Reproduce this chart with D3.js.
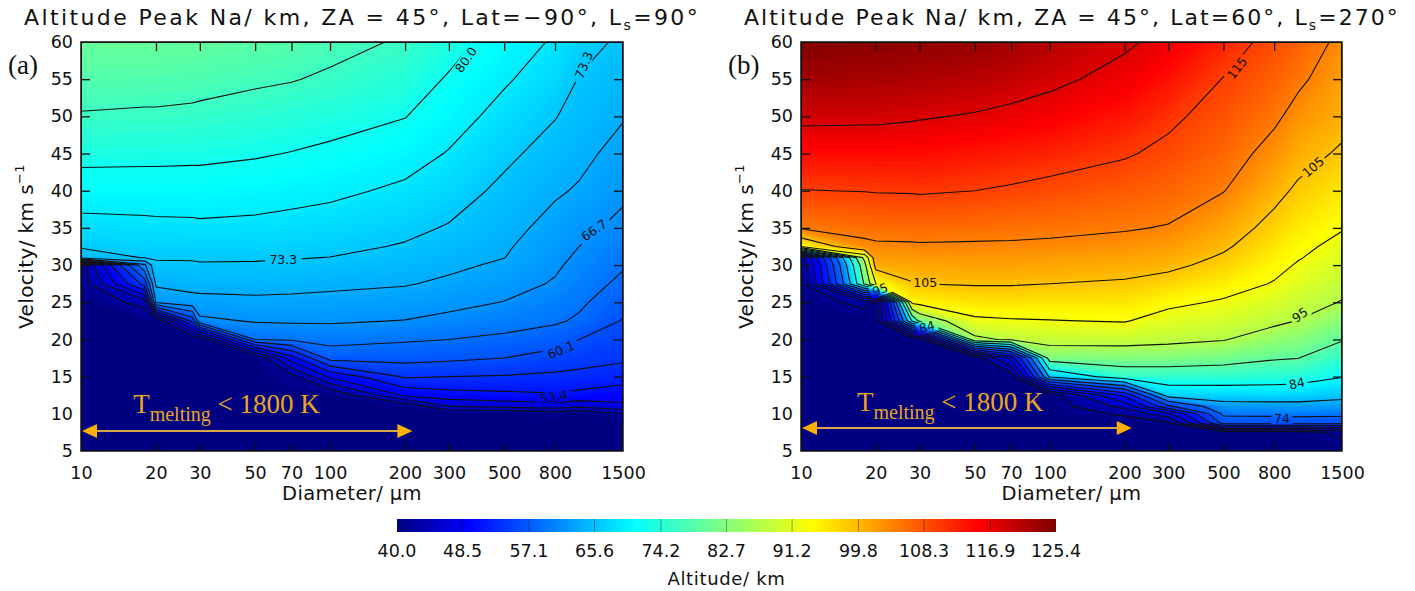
<!DOCTYPE html>
<html><head><meta charset="utf-8">
<script src="https://cdn.jsdelivr.net/npm/d3@7"></script>
<style>body{margin:0;background:#fff}text{font-family:"DejaVu Sans",sans-serif}</style>
</head><body>
<svg id="c" width="1415" height="591"></svg>
<script>
// ---------------- data ----------------
const diameters = [10, 18, 20, 28, 30, 50, 70, 100, 200, 300, 500, 800, 1000, 1500];
const velocities = [5, 7.5, 8.75, 10, 11, 12.5, 15, 17.5, 20, 22.5, 25, 27.5, 30, 31, 32.5, 35, 40, 45, 50, 55, 60];

// panel (a): one column per diameter, values at the velocities above (km)
const altitudeA = [
  [40,40,40,40,40,40,40,40,40,40,40,41,42,71.5,73.7,75.5,78.5,80.9,83.1,84.9,86.3],
  [40,40,40,40,40,40,40,40,40,40,45,58,66,73.5,74.6,75.8,78.5,80.8,82.9,84.7,86.2],
  [40,40,40,40,40,40,40,40,40,40,67,70.7,72.9,73.6,74.5,75.9,78.5,80.8,82.9,84.7,86.2],
  [40,40,40,40,40,40,40,40,40,58,68.8,71.2,73.0,73.6,74.5,76.0,78.5,80.7,82.7,84.5,86.0],
  [40,40,40,40,40,40,40,40,40,65.9,69.0,71.2,73.1,73.7,74.6,76.1,78.5,80.7,82.6,84.4,85.9],
  [40,40,40,40,40,40,40,40,63.4,67.0,69.3,71.3,73.1,73.6,74.5,75.9,78.2,80.3,82.1,83.8,85.4],
  [40,40,40,40,40,40,42,52,63.9,67.1,69.2,71.1,72.9,73.5,74.3,75.6,77.8,79.9,81.7,83.5,85.0],
  [40,40,40,40,40,40,50.7,61.4,64.5,67.1,69.0,70.8,72.6,73.3,74.1,75.2,77.4,79.4,81.2,82.9,84.3],
  [40,40,40,40,40.5,50.7,57.2,61.2,63.8,66.6,68.5,70.3,71.7,72.3,73.1,74.1,76.1,78.1,80.1,81.6,83.0],
  [40,40,40,40,46.7,52.0,56.75,60.8,63.4,65.8,67.7,69.4,70.8,71.2,72.0,73.1,74.9,76.5,78.1,79.7,81.2],
  [40,40,40,40,47.7,52.6,56.5,60.1,62.6,65.0,66.6,68.0,69.5,70.1,70.5,71.2,72.6,74.1,75.6,77.1,78.5],
  [40,40,40,41.5,48.6,53.0,56.1,58.8,61.5,63.9,65.0,66.4,67.2,67.5,68.0,68.9,70.5,72.0,73.5,75.0,76.3],
  [40,40,40,40,47.5,52.4,55.9,58.0,60.1,62.9,64.0,64.9,65.8,66.2,66.7,67.5,69.7,71.0,72.2,73.2,74.5],
  [40,40,40,43.4,49.2,51.6,54.8,57.4,58.6,59.9,61.2,62.7,63.7,64.0,64.6,65.9,67.3,68.8,70.3,71.6,72.8]
];
// panel (b)
const altitudeB = [
  [40,40,40,40,40,40,40,40,40,40,40,42,44,46,100,110.5,115.1,118.2,121.1,123.5,125.3],
  [40,40,40,40,40,40,40,40,40,40,45,90,93,96,109,111.4,115.3,118.2,121.0,123.3,125.0],
  [40,40,40,40,40,40,40,40,40,40,40,99.75,106.6,107.8,109.4,111.6,115.4,118.2,121.0,123.2,124.9],
  [40,40,40,40,40,40,40,40,40,85,100.8,104.6,107.1,108.0,109.5,111.7,115.5,118.1,120.7,122.9,124.7],
  [40,40,40,40,40,40,40,40,40,90.6,101.1,104.9,107.2,108.1,109.6,111.7,115.6,118.1,120.6,122.9,124.6],
  [40,40,40,40,40,40,40,40,93.5,99.0,102.3,105.2,107.3,108.2,109.5,111.5,115.2,117.6,120.1,122.4,124.2],
  [40,40,40,40,40,40,40,55,95.3,99.4,102.4,105.2,107.3,108.2,109.5,111.2,114.8,117.2,119.6,121.8,123.6],
  [40,40,40,40,40,40,80,91.5,96.1,99.6,102.3,104.9,107.1,107.8,109.3,111.0,114.2,116.8,119.1,121.0,122.6],
  [40,40,40,44,50,60,87.0,91.6,96.2,100.0,102.2,104.4,106.5,107.3,108.6,110.4,113.0,115.6,117.5,119.4,120.8],
  [40,40,42,52,68,81.1,87.0,91.6,95.6,98.1,100.7,103.4,105.8,106.6,107.9,109.8,112.2,114.3,116.0,117.8,119.5],
  [40,40,70.6,75.0,77.4,81.4,86.9,91.0,94.8,97.1,99.3,101.5,103.7,104.4,105.5,107.0,110.2,112.0,113.6,115.1,116.8],
  [40,40,70.8,75.2,77.5,81.6,86.4,89.8,92.7,95.4,97.4,99.5,100.9,101.4,102.2,103.6,106.1,108.6,110.8,112.5,114.1],
  [40,40,71.0,75.5,77.7,81.3,86.2,89.5,92.0,94.5,96.3,98.0,99.4,100.0,100.7,101.9,104.2,106.5,108.7,110.8,112.6],
  [40,45,70.5,75.2,77.5,80.2,84.5,87.1,89.7,92.0,94.4,95.8,97.2,97.8,98.6,100.0,102.1,104.3,106.3,107.7,109.0]
];

const levelsA = [43.4, 46.75, 50.05, 53.4, 56.75, 60.1, 63.4, 66.7, 70.05, 73.35, 76.7, 80.0, 83.35];
const levelsB = [43.1, 48.25, 53.4, 58.55, 63.7, 68.85, 74.0, 79.15, 84.3, 89.45, 94.6, 99.75, 104.9, 110.05, 115.2, 120.35];

// shade seen in the picture for a given altitude (the fills read darker than the line labels)
const shadeInA  = [40, 53.4, 60.1, 66.7, 73.35, 80, 87];
const shadeOutA = [40, 51, 56, 61.5, 66, 72, 81];
const shadeInB  = [40, 74, 84.3, 94.6, 104.9, 115.2, 125.4];
const shadeOutB = [40, 58, 71, 87, 99, 110, 125.4];

const labelTextA = ["80.0", "73.3", "66.7", "60.1", "53.4", "73.3"];
const labelDiamA = [351, 1045, 1148, 845, 792, 64.9];
const labelVelA  = [57.6, 56.9, 34.7, 18.6, 12.3, 30.7];
const labelAngA  = [-55, -68, -35, -22, -10, 0];

const labelTextB = ["115", "105", "105", "95", "95", "84", "84", "74"];
const labelDiamB = [567, 1148, 31.6, 1016, 20.8, 988, 32.1, 861];
const labelVelB  = [56.5, 43.2, 27.6, 23.3, 26.7, 14.1, 21.7, 9.4];
const labelAngB  = [-52, -40, 0, -35, -20, -12, -15, 0];

const xTicks = [10, 20, 30, 50, 70, 100, 200, 300, 500, 800, 1500];
const yTicks = [5, 10, 15, 20, 25, 30, 35, 40, 45, 50, 55, 60];
const colorbarTicks = ["40.0","48.5","57.1","65.6","74.2","82.7","91.2","99.8","108.3","116.9","125.4"];
const colorMin = 40.0, colorMax = 125.4;

const titlesLat = ["\u221290", "60"];
const titlesLs = ["90", "270"];
const panelTags = ["(a)", "(b)"];
const arrowDiam = [10.1, 214];
const arrowVel = [7.7, 8.1];
const annotDiam = [16.2, 16.8];
const annotVel = [10.1, 10.4];

// ---------------- drawing ----------------
const svg = d3.select("#c");
const PT = 42, PB = 451;
const jetT = [0, 0.11, 0.36, 0.63, 0.88, 1];
const jetC = ["#00007f", "#0000ff", "#00ffff", "#ffff00", "#ff0000", "#7f0000"];
const color = d3.scaleLinear().domain(jetT.map(t => colorMin + t * (colorMax - colorMin))).range(jetC).clamp(true);

function fit(sel, target) {
  const n = sel.node();
  const len = n.getComputedTextLength();
  const chars = n.textContent.length;
  sel.attr("letter-spacing", ((target - len) / chars).toFixed(2));
}

const defs = svg.append("defs");
const panels = [
  {key: "a", x0: 81, x1: 623, data: altitudeA, levels: levelsA, lt: labelTextA, ld: labelDiamA, lv: labelVelA, la: labelAngA,
   shade: d3.scaleLinear().domain(shadeInA).range(shadeOutA).clamp(true), tx: 24, tw: 676},
  {key: "b", x0: 801, x1: 1342, data: altitudeB, levels: levelsB, lt: labelTextB, ld: labelDiamB, lv: labelVelB, la: labelAngB,
   shade: d3.scaleLinear().domain(shadeInB).range(shadeOutB).clamp(true), tx: 744, tw: 656}
];

panels.forEach((p, pi) => {
  const x = d3.scaleLog().domain([10, 1500]).range([p.x0, p.x1]);
  const y = d3.scaleLinear().domain([5, 60]).range([PB, PT]);
  const nx = diameters.length, ny = velocities.length;
  const values = new Array(nx * ny);
  for (let j = 0; j < ny; j++) for (let i = 0; i < nx; i++) values[i + j * nx] = p.data[i][j];
  const logD = diameters.map(Math.log10);
  const map = pt => {
    const cx = Math.max(0, Math.min(nx - 1, pt[0] - 0.5));
    const cy = Math.max(0, Math.min(ny - 1, pt[1] - 0.5));
    const i = Math.min(Math.floor(cx), nx - 2), fx = cx - i;
    const j = Math.min(Math.floor(cy), ny - 2), fy = cy - j;
    const ld = logD[i] * (1 - fx) + logD[i + 1] * fx;
    const v = velocities[j] * (1 - fy) + velocities[j + 1] * fy;
    return [x(Math.pow(10, ld)), y(v)];
  };
  const toPath = coords => coords.map(poly => poly.map(ring =>
    "M" + ring.map(pt => { const q = map(pt); return q[0].toFixed(2) + "," + q[1].toFixed(2); }).join("L") + "Z").join("")).join("");

  const clipId = "clip" + p.key;
  defs.append("clipPath").attr("id", clipId).append("rect")
    .attr("x", p.x0).attr("y", PT).attr("width", p.x1 - p.x0).attr("height", PB - PT);

  const g = svg.append("g");
  const plot = g.append("g").attr("clip-path", `url(#${clipId})`);
  plot.append("rect").attr("x", p.x0).attr("y", PT).attr("width", p.x1 - p.x0).attr("height", PB - PT).attr("fill", color(colorMin));

  const fillLevels = d3.range(colorMin, colorMax + 0.01, 0.4);
  const fills = d3.contours().size([nx, ny]).thresholds(fillLevels)(values);
  plot.append("g").selectAll("path").data(fills).join("path")
    .attr("d", c => toPath(c.coordinates))
    .attr("fill", c => color(p.shade(c.value + 0.2)));

  // label positions and line mask
  const labs = p.lt.map((t, k) => ({text: t, x: x(p.ld[k]), y: y(p.lv[k]), a: p.la[k]}));
  const maskId = "mask" + p.key;
  const mask = defs.append("mask").attr("id", maskId).attr("maskUnits", "userSpaceOnUse")
    .attr("x", 0).attr("y", 0).attr("width", 1415).attr("height", 591);
  mask.append("rect").attr("x", 0).attr("y", 0).attr("width", 1415).attr("height", 591).attr("fill", "white");
  labs.forEach(l => {
    const w = l.text.length * 7.6 + 6;
    mask.append("rect").attr("x", -w / 2).attr("y", -6).attr("width", w).attr("height", 12)
      .attr("fill", "black").attr("transform", `translate(${l.x},${l.y}) rotate(${l.a})`);
  });

  const lines = d3.contours().size([nx, ny]).thresholds(p.levels)(values);
  plot.append("g").attr("mask", `url(#${maskId})`).selectAll("path").data(lines).join("path")
    .attr("d", c => toPath(c.coordinates))
    .attr("fill", "none").attr("stroke", "#111").attr("stroke-width", 1.1).attr("stroke-linejoin", "round");

  plot.append("g").selectAll("text").data(labs).join("text")
    .attr("transform", l => `translate(${l.x},${l.y}) rotate(${l.a})`)
    .attr("text-anchor", "middle").attr("dy", "0.36em")
    .attr("font-size", 12.5).attr("fill", "#111").text(l => l.text);

  // annotation: melting arrow
  const ay = y(arrowVel[pi]);
  const ax0 = x(arrowDiam[0]), ax1 = x(arrowDiam[1]);
  const ann = g.append("g");
  ann.append("line").attr("x1", ax0 + 12).attr("x2", ax1 - 12).attr("y1", ay).attr("y2", ay)
    .attr("stroke", "#d7a54a").attr("stroke-width", 2);
  ann.append("path").attr("d", `M${ax0},${ay}L${ax0 + 15},${ay - 7}L${ax0 + 15},${ay + 7}Z`).attr("fill", "#ffb000");
  ann.append("path").attr("d", `M${ax1},${ay}L${ax1 - 15},${ay - 7}L${ax1 - 15},${ay + 7}Z`).attr("fill", "#ffb000");
  const at = ann.append("text").attr("x", x(annotDiam[pi])).attr("y", y(annotVel[pi]))
    .attr("fill", "#eaa520").style("font-family", "'Liberation Serif', serif").attr("font-size", 27);
  at.append("tspan").text("T");
  at.append("tspan").attr("font-size", 20).attr("dy", 8).text("melting");
  at.append("tspan").attr("dy", -8).text(" < 1800 K");

  // axes
  const fontSet = sel => sel.attr("font-family", "DejaVu Sans, sans-serif").attr("font-size", 17.5);
  const xb = g.append("g").attr("transform", `translate(0,${PB})`)
    .call(d3.axisBottom(x).tickValues(xTicks).tickFormat(d3.format("d")).tickSizeInner(-9).tickSizeOuter(0).tickPadding(16));
  const xt = g.append("g").attr("transform", `translate(0,${PT})`)
    .call(d3.axisTop(x).tickValues(xTicks).tickFormat("").tickSizeInner(-9).tickSizeOuter(0));
  const yl = g.append("g").attr("transform", `translate(${p.x0},0)`)
    .call(d3.axisLeft(y).tickValues(yTicks).tickFormat(d3.format("d")).tickSizeInner(-9).tickSizeOuter(0).tickPadding(8));
  const yr = g.append("g").attr("transform", `translate(${p.x1},0)`)
    .call(d3.axisRight(y).tickValues(yTicks).tickFormat("").tickSizeInner(-9).tickSizeOuter(0));
  [xb, xt, yl, yr].forEach(a => { fontSet(a); a.select(".domain").remove(); a.selectAll(".tick line").attr("stroke", "#111").attr("stroke-width", 1.3); a.selectAll("text").attr("fill", "#111"); });
  [xt, yr, xb, yl].forEach(a => a.selectAll(".tick line").filter(d => d === 10 || d === 1500 || d === 5 || d === 60).remove());

  g.append("rect").attr("x", p.x0).attr("y", PT).attr("width", p.x1 - p.x0).attr("height", PB - PT)
    .attr("fill", "none").attr("stroke", "#111").attr("stroke-width", 1.5);

  // titles & labels
  const cx = (p.x0 + p.x1) / 2;
  const tt = g.append("text").attr("x", p.tx).attr("y", 25).attr("font-size", 22).attr("fill", "#111");
  tt.append("tspan").text(`Altitude Peak Na/ km, ZA = 45°, Lat=${titlesLat[pi]}°, L`);
  tt.append("tspan").attr("font-size", 14).attr("dy", 5).text("s");
  tt.append("tspan").attr("dy", -5).text(`=${titlesLs[pi]}°`);
  fit(tt, p.tw);

  const xlab = g.append("text").attr("x", cx).attr("y", 500).attr("text-anchor", "middle").attr("font-size", 19.5).attr("fill", "#111")
    .text("Diameter/ \u03bcm");
  fit(xlab, 140);

  const yt = g.append("text").attr("transform", `translate(${p.x0 - 48},${(PT + PB) / 2}) rotate(-90)`)
    .attr("text-anchor", "middle").attr("font-size", 20).attr("fill", "#111");
  yt.append("tspan").text("Velocity/ km s");
  yt.append("tspan").attr("font-size", 13).attr("dy", -9).text("\u22121");
  fit(yt, 165);

  g.append("text").attr("x", p.x0 - 73).attr("y", 74).attr("font-size", 27).style("font-family", "'Liberation Serif', serif")
    .attr("fill", "#111").text(panelTags[pi]);
});

// ---------------- colour bar ----------------
const cb = d3.scaleLinear().domain([colorMin, colorMax]).range([397, 1056]);
const grad = defs.append("linearGradient").attr("id", "jet").attr("x1", "0%").attr("x2", "100%");
jetT.forEach((t, k) => grad.append("stop").attr("offset", (t * 100) + "%").attr("stop-color", jetC[k]));
svg.append("rect").attr("x", cb(colorMin)).attr("y", 519).attr("width", cb(colorMax) - cb(colorMin)).attr("height", 13).attr("fill", "url(#jet)");
const tickVals = colorbarTicks.map(Number);
svg.append("g").selectAll("line").data(tickVals.slice(1, -1)).join("line")
  .attr("x1", d => cb(d)).attr("x2", d => cb(d)).attr("y1", 519).attr("y2", 532)
  .attr("stroke", "#000").attr("stroke-opacity", 0.35).attr("stroke-width", 1);
svg.append("g").selectAll("text").data(colorbarTicks).join("text")
  .attr("x", d => cb(+d)).attr("y", 557).attr("text-anchor", "middle").attr("font-size", 17.5).attr("fill", "#111").text(d => d);
const cbl = svg.append("text").attr("x", cb((colorMin + colorMax) / 2)).attr("y", 585).attr("text-anchor", "middle")
  .attr("font-size", 18).attr("fill", "#111").text("Altitude/ km");
fit(cbl, 118);
</script>
</body></html>
